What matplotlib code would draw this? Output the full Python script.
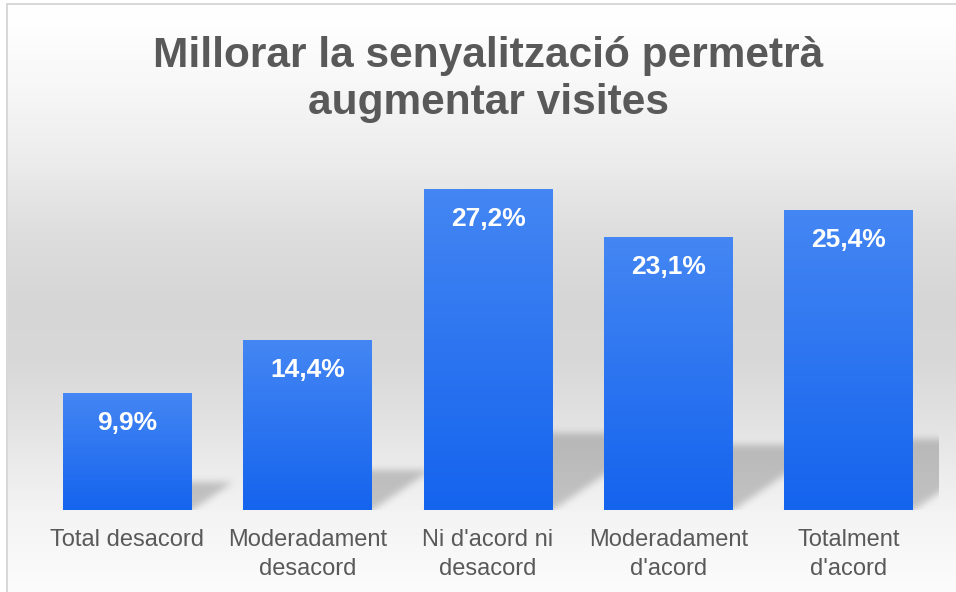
import numpy as np
import matplotlib
matplotlib.use("Agg")
import matplotlib.pyplot as plt
from matplotlib.transforms import offset_copy

categories = ["Total desacord", "Moderadament\ndesacord", "Ni d'acord ni\ndesacord",
              "Moderadament\nd'acord", "Totalment\nd'acord"]
values = [9.9, 14.4, 27.2, 23.1, 25.4]
value_labels = ["9,9%", "14,4%", "27,2%", "23,1%", "25,4%"]
title = "Millorar la senyalització permetrà\naugmentar visites"

plt.rcParams['font.family'] = ['Liberation Sans', 'DejaVu Sans']

W, H = 956, 592
fig = plt.figure(figsize=(W / 100, H / 100), dpi=100)
fig.patch.set_facecolor('white')

ax = fig.add_axes([37 / W, 82 / H, 902 / W, 354 / H])
ax.set_zorder(1)
ax.set_facecolor('none')
for s in ax.spines.values():
    s.set_visible(False)

x = np.arange(len(values))
bars = ax.bar(x, values, width=0.715, color='#2a72f0', zorder=3)

# vertical gradient fill for each bar
g = np.linspace(0, 1, 256).reshape(-1, 1, 1)
top_c = np.array([68, 134, 243]) / 255
bot_c = np.array([21, 100, 238]) / 255
grad_img = top_c + (bot_c - top_c) * g
for b in bars:
    x0 = b.get_x(); x1 = x0 + b.get_width(); h = b.get_height()
    im = ax.imshow(grad_img, extent=[x0, x1, 0, h], origin='upper', aspect='auto',
                   zorder=3.5, interpolation='bilinear')
    im.set_clip_path(b)

ax.set_xlim(-0.5, len(values) - 0.5)
ax.set_ylim(0, 30)
ax.set_yticks([])
ax.set_xticks(x)
ax.set_xticklabels(categories, fontsize=17, color='#595959', linespacing=1.4)
ax.tick_params(axis='x', length=0, pad=14)

trans = offset_copy(ax.transData, fig=fig, x=0, y=-30, units='dots')
for i, (v, lab) in enumerate(zip(values, value_labels)):
    ax.text(i, v, lab, ha='center', va='center', transform=trans, fontsize=19,
            fontweight='bold', color='white', zorder=6)

fig.text(488 / W, 1 - 79.5 / H, title, ha='center', va='center', fontsize=30.5,
         fontweight='bold', color='#595959', linespacing=1.24)

# ---------- background: gradient + perspective shadows ----------
stops_y = [0, 25, 80, 160, 230, 300, 360, 420, 470, 510, 560, 592]
stops_v = [255, 254, 248, 236, 222, 214, 216, 226, 236, 243, 249, 252]
rows = np.arange(H)
prof = np.interp(rows, stops_y, stops_v) / 255.0
bg = np.repeat(prof[:, None], W, axis=1)

mask = np.zeros((H, W))
k = 0.24
shear = 1.45
ax_bb = ax.get_window_extent()
for b in bars:
    x0 = b.get_x(); x1 = x0 + b.get_width(); h = b.get_height()
    (xl, yb) = ax.transData.transform((x0, 0))
    (xr, yt) = ax.transData.transform((x1, h))
    hpx = yt - yb
    sh = k * hpx
    for r in range(H):
        yd = H - r
        d = yd - yb
        if 0 <= d <= sh:
            c0 = int(round(xl + d * shear)); c1 = int(round(xr + d * shear))
            mask[r, max(c0, 0):min(c1, W)] = 1.0


def box_blur(a, rad, axis):
    pad = [(0, 0), (0, 0)]
    pad[axis] = (rad + 1, rad)
    p = np.pad(a, pad, mode='edge')
    c = np.cumsum(p, axis=axis)
    n = a.shape[axis]
    if axis == 0:
        return (c[2 * rad + 1:2 * rad + 1 + n] - c[0:n]) / (2 * rad + 1)
    return (c[:, 2 * rad + 1:2 * rad + 1 + n] - c[:, 0:n]) / (2 * rad + 1)


for _ in range(3):
    mask = box_blur(mask, 3, 0)
    mask = box_blur(mask, 3, 1)

# clip to plot area
r_top = int(H - ax_bb.y1); r_bot = int(round(H - ax_bb.y0))
c_l = int(ax_bb.x0); c_r = int(round(ax_bb.x1))
clip = np.zeros_like(mask)
clip[r_top:r_bot, c_l:c_r] = 1
mask *= clip
bg = bg * (1 - 0.2 * mask)

# border of the chart area (left and top visible)
bg[:, :6] = 1.0
bg[:3, :] = 1.0
bg[3:5, 6:] = 0.85
bg[3:, 6:8] = 0.85

bg_rgb = np.dstack([bg, bg, bg])
bgax = fig.add_axes([0, 0, 1, 1], zorder=-1)
bgax.imshow(bg_rgb, extent=[0, W, 0, H], origin='upper', aspect='auto',
            interpolation='nearest')
bgax.axis('off')

fig.savefig('out.png', dpi=100)
